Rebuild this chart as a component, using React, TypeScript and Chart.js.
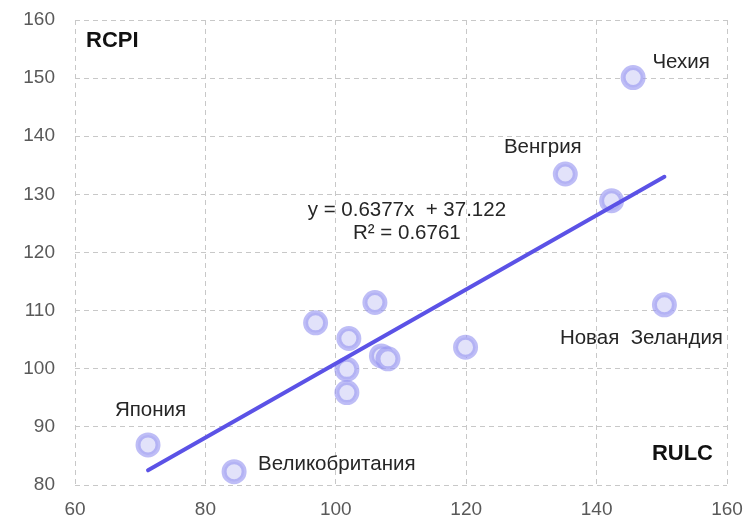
import React, { useEffect, useRef } from "react";
import { Chart, registerables } from "chart.js";

Chart.register(...registerables);

const rulcValues = [71.2, 84.4, 101.7, 101.7, 102.0, 96.9, 106.0, 107.0, 108.0, 119.9, 135.2, 142.3, 145.6, 150.4];
const rcpiValues = [86.9, 82.3, 95.9, 99.9, 105.2, 107.9, 111.4, 102.2, 101.7, 103.7, 133.5, 128.9, 150.1, 111.0];
const pointNames = ["Япония", "Великобритания", "", "", "", "", "", "", "", "", "Венгрия", "", "Чехия", "Новая  Зеландия"];
const trendSlope = 0.6377;
const trendIntercept = 37.122;
const equationLines = ["y = 0.6377x  + 37.122", "R² = 0.6761"];
const yAxisTitle = "RCPI";
const xAxisTitle = "RULC";
const xTicks = [60, 80, 100, 120, 140, 160];
const yTicks = [80, 90, 100, 110, 120, 130, 140, 150, 160];

// label placement relative to point (pixels): [dx, dy, align]
const labelOffsets: Record<string, [number, number, CanvasTextAlign]> = {
  "Япония": [2.5, -35, "center"],
  "Великобритания": [24, -7, "left"],
  "Венгрия": [-22.5, -27, "center"],
  "Чехия": [48, -15, "center"],
  "Новая  Зеландия": [-23, 34, "center"],
};

const FONT = "'Liberation Sans', Arial, sans-serif";

export default function App() {
  const ref = useRef<HTMLCanvasElement | null>(null);
  useEffect(() => {
    if (!ref.current) return;
    const xMin = Math.min(...rulcValues);
    const xMax = Math.max(...rulcValues);
    const trend = [
      { x: xMin, y: trendSlope * xMin + trendIntercept },
      { x: xMax, y: trendSlope * xMax + trendIntercept },
    ];
    const labelsPlugin = {
      id: "labels",
      afterDraw(chart: any) {
        const ctx = chart.ctx;
        const xs = chart.scales.x;
        const ys = chart.scales.y;
        const area = chart.chartArea;
        ctx.save();
        ctx.fillStyle = "#262626";
        ctx.textBaseline = "middle";
        ctx.font = `20.5px ${FONT}`;
        pointNames.forEach((name, i) => {
          if (!name) return;
          const off = labelOffsets[name];
          const px = xs.getPixelForValue(rulcValues[i]);
          const py = ys.getPixelForValue(rcpiValues[i]);
          ctx.textAlign = off[2];
          ctx.fillText(name, px + off[0], py + off[1]);
        });
        ctx.textAlign = "center";
        const ex = xs.getPixelForValue(110.9);
        const ey = ys.getPixelForValue(127.3);
        ctx.fillText(equationLines[0], ex, ey);
        ctx.fillText(equationLines[1], ex, ey + 23);
        ctx.font = `bold 22px ${FONT}`;
        ctx.fillStyle = "#111111";
        ctx.textAlign = "left";
        ctx.fillText(yAxisTitle, area.left + 11, area.top + 21);
        ctx.textAlign = "right";
        ctx.fillText(xAxisTitle, area.right - 14, area.bottom - 31);
        ctx.restore();
      },
    };
    const chart = new Chart(ref.current, {
      type: "scatter",
      data: {
        datasets: [
          {
            label: "trend",
            data: trend,
            showLine: true,
            borderColor: "#5b52e6",
            borderWidth: 4,
            borderCapStyle: "round",
            pointRadius: 0,
            order: 0,
          } as any,
          {
            label: "countries",
            data: rulcValues.map((x, i) => ({ x, y: rcpiValues[i] })),
            pointRadius: 10,
            pointBorderWidth: 5,
            backgroundColor: "rgba(226,226,250,1)",
            borderColor: "rgba(150,148,240,0.62)",
            order: 1,
          } as any,
        ],
      },
      options: {
        animation: false,
        responsive: false,
        layout: { padding: { top: 20, right: 22, left: 0, bottom: 0 } },
        plugins: { legend: { display: false }, tooltip: { enabled: false } },
        scales: {
          x: {
            min: 60,
            max: 160,
            afterBuildTicks: (s: any) => { s.ticks = xTicks.map((v) => ({ value: v })); },
            afterFit: (s: any) => { s.height = 33; s.paddingLeft = 0; s.paddingRight = 0; },
            grid: { color: "#c8c8c8", lineWidth: 1, drawTicks: false },
            border: { display: false, dash: [5, 4] },
            ticks: { color: "#595959", font: { size: 19, family: FONT }, padding: 13 },
          },
          y: {
            min: 80,
            max: 160,
            afterBuildTicks: (s: any) => { s.ticks = yTicks.map((v) => ({ value: v })); },
            afterFit: (s: any) => { s.width = 75; s.paddingTop = 0; s.paddingBottom = 0; },
            grid: { color: "#c8c8c8", lineWidth: 1, drawTicks: false },
            border: { display: false, dash: [5, 4] },
            ticks: { color: "#595959", font: { size: 19, family: FONT }, padding: 20 },
          },
        },
      } as any,
      plugins: [labelsPlugin],
    });
    return () => chart.destroy();
  }, []);
  return (
    <div style={{ position: "fixed", left: 0, top: 0, width: 749, height: 518, background: "#fff" }}>
      <canvas ref={ref} width={749} height={518} style={{ width: 749, height: 518 }} />
    </div>
  );
}
